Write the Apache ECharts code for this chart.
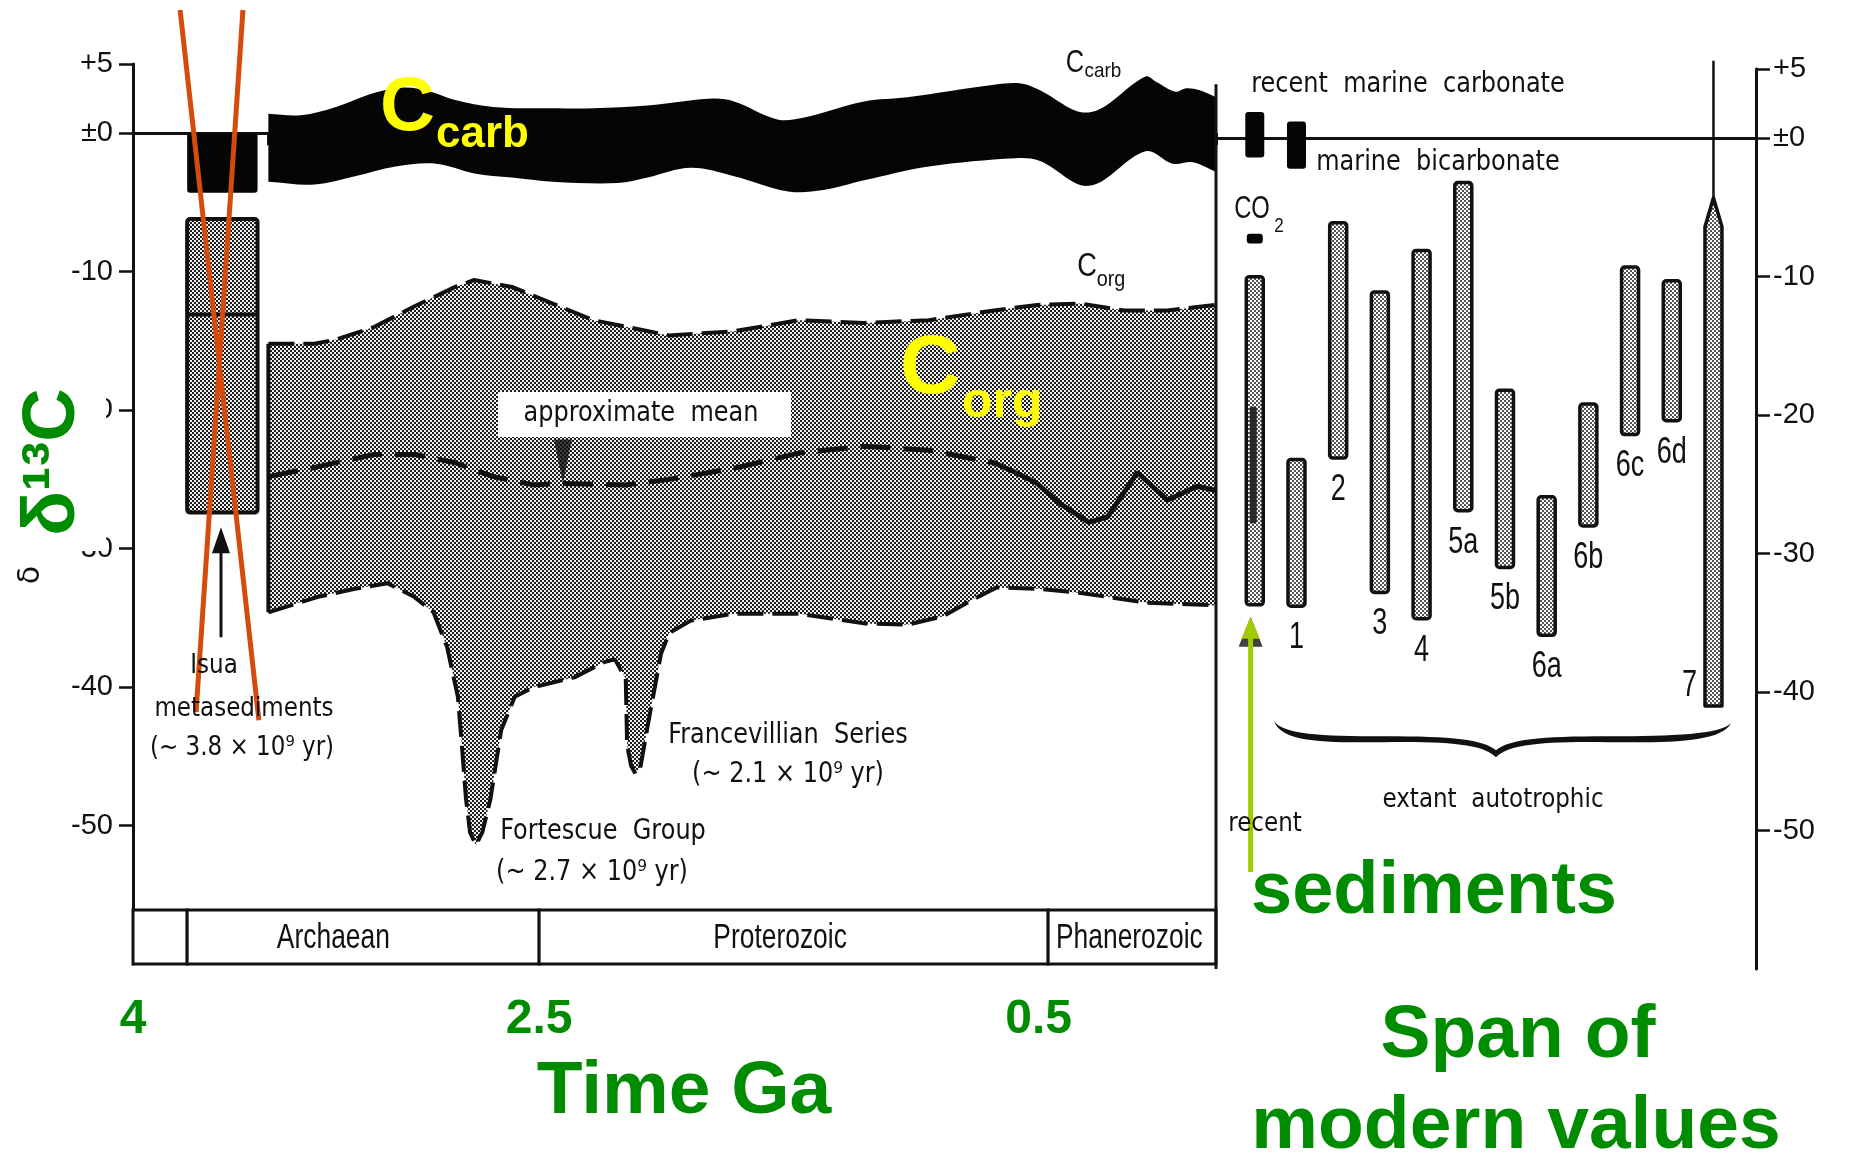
<!DOCTYPE html>
<html>
<head>
<meta charset="utf-8">
<title>δ13C of carbonate and organic carbon through time</title>
<script src="https://cdn.jsdelivr.net/npm/echarts@6/dist/echarts.min.js"></script>
<style>
  html, body { margin: 0; padding: 0; background: #ffffff; }
  #chart { width: 1850px; height: 1155px; }
</style>
</head>
<body>
<div id="chart"></div>
<script>
// ---------------- data (time in Ga, isotope values in ‰ δ13C) ----------------
const timeLabelValues = [4, 2.5, 0.5];
const deltaTickValues = [5, 0, -10, -20, -30, -40, -50];

// carbonate carbon envelope
const carbTop = [[3.50,1.4],[3.38,1.3],[3.25,1.9],[3.11,2.9],[3.00,3.3],[2.90,3.0],[2.81,2.4],[2.67,1.9],[2.45,1.8],[2.30,1.8],[2.10,2.0],[1.86,2.5],[1.78,2.3],[1.62,1.0],[1.53,1.1],[1.30,2.3],[1.14,2.6],[0.82,3.5],[0.72,3.6],[0.66,3.2],[0.47,1.5],[0.26,4.1],[0.22,3.7],[0.15,3.0],[0.11,3.25],[0.06,3.1],[0.00,2.6]];
const carbBottom = [[3.50,-3.5],[3.33,-3.7],[3.18,-3.1],[3.03,-2.4],[2.88,-2.2],[2.74,-2.9],[2.60,-3.2],[2.45,-3.5],[2.21,-3.6],[2.10,-3.2],[1.94,-2.5],[1.78,-3.1],[1.58,-4.2],[1.45,-4.1],[1.30,-3.4],[1.06,-2.4],[0.74,-1.8],[0.65,-2.0],[0.47,-3.8],[0.26,-1.3],[0.16,-2.2],[0.085,-2.1],[0.00,-2.8]];

// organic carbon envelope
const orgTop = [[3.50,-15.2],[3.33,-15.2],[3.25,-14.9],[3.11,-14.0],[2.96,-12.5],[2.81,-11.1],[2.74,-10.6],[2.60,-11.1],[2.45,-12.3],[2.30,-13.5],[2.02,-14.6],[1.78,-14.3],[1.54,-13.5],[1.30,-13.7],[1.06,-13.5],[0.82,-12.8],[0.66,-12.4],[0.50,-12.3],[0.34,-12.8],[0.18,-12.8],[0.00,-12.4]];
const orgBottom = [[3.50,-34.6],[3.32,-33.5],[3.18,-32.9],[3.06,-32.5],[2.96,-33.5],[2.89,-34.6],[2.84,-37.1],[2.80,-40.7],[2.785,-44.3],[2.77,-48.1],[2.755,-50.5],[2.733,-51.4],[2.71,-50.5],[2.68,-48.1],[2.64,-43.1],[2.59,-40.7],[2.52,-40.0],[2.37,-39.3],[2.26,-38.2],[2.22,-38.0],[2.18,-39.4],[2.175,-44.2],[2.16,-45.7],[2.143,-46.3],[2.125,-45.7],[2.10,-42.9],[2.05,-37.6],[2.02,-36.1],[1.94,-35.2],[1.78,-34.7],[1.54,-34.7],[1.30,-35.4],[1.14,-35.5],[1.01,-34.9],[0.90,-33.7],[0.81,-32.8],[0.66,-32.9],[0.50,-33.2],[0.26,-33.9],[0.00,-34.1]];

// approximate mean of organic carbon (dashed part, then solid Phanerozoic part)
const orgMeanDashed = [[3.50,-24.8],[3.32,-24.1],[3.11,-23.2],[2.96,-23.2],[2.81,-23.8],[2.67,-24.8],[2.52,-25.4],[2.42,-25.3],[2.18,-25.4],[2.02,-25.0],[1.78,-24.2],[1.54,-23.1],[1.30,-22.6],[1.06,-22.9],[0.82,-23.8],[0.74,-24.5]];
const orgMeanSolid = [[0.74,-24.5],[0.66,-25.3],[0.58,-26.7],[0.47,-28.1],[0.40,-27.7],[0.29,-24.5],[0.18,-26.5],[0.07,-25.5],[0.00,-25.8]];
const meanPointer = [2.412, -23.7];

// Isua metasediments (~3.8 Ga)
const isuaSpan = [3.80, 3.54];
const isuaCarb = [0, -4.3];
const isuaOrg = [-6.2, -27.4];
const isuaOrgMean = -13.1;
const isuaArrow = [[3.675, -36.4], [3.675, -29.4]];
const crossLineA = [[3.826, 8.9], [3.535, -42.4]];
const crossLineB = [[3.594, 8.9], [3.767, -41.8]];

// geological eras along the time axis
const eraNames = ['', 'Archaean', 'Proterozoic', 'Phanerozoic'];
const eraStart = [4.0, 3.8, 2.5, 0.62];
const eraEnd = [3.8, 2.5, 0.62, 0.0];
const eraLabelAt = [3.9, 3.26, 1.61, 0.32];
const eraBand = [-56.1, -60];

// modern values: recent sediments and extant autotrophs
const modernNames = ['recent', '1', '2', '3', '4', '5a', '5b', '6a', '6b', '6c', '6d', '7'];
const modernHigh = [-10.0, -23.2, -6.1, -11.1, -8.1, -3.2, -18.2, -25.9, -19.2, -9.3, -10.3, -6.4];
const modernLow  = [-33.7, -33.8, -23.1, -32.8, -34.7, -26.9, -31.0, -35.9, -28.0, -21.4, -20.4, -41.0];
const recentCore = [-19.4, -27.8];
const group7Tip = -4.3;
const group7Whisker = 5.6;

const marineNames = ['recent marine carbonate', 'marine bicarbonate', 'CO2'];
const marineSlot = [0, 1, 0];
const marineHigh = [1.9, 1.2, -6.9];
const marineLow = [-1.4, -2.2, -7.6];

const sedimentArrow = [[-0.1, -53.0], [-0.1, -35.35]];
const braceSpan = [0.46, 11.42];
const braceTop = -42.1;
const dividerTop = 3.9;

// ---------------- styling helpers ----------------
const SANS = "'Liberation Sans',Arial,sans-serif";
const SCAN = "'DejaVu Sans','Liberation Sans',sans-serif";
const BOLD = "'Liberation Sans',Arial,'Helvetica',sans-serif";
const GREEN = '#008c00';
const INK = '#111111';

function halftone(dark, light, cell) {
  const c = document.createElement('canvas');
  c.width = c.height = cell * 2;
  const g = c.getContext('2d');
  g.fillStyle = light; g.fillRect(0, 0, cell * 2, cell * 2);
  g.fillStyle = dark; g.fillRect(0, 0, cell, cell); g.fillRect(cell, cell, cell, cell);
  return c;
}
const orgFill = { image: halftone('#1c1c1c', '#f2f2f2', 2), repeat: 'repeat' };
const barFill = { image: halftone('#555555', '#ffffff', 2), repeat: 'repeat' };

// closed band between two edges; corner points are doubled so the ends stay square when smoothed
function bandItem(upper, lower, fill, smooth) {
  return function (params, api) {
    const up = upper.map(p => api.coord(p));
    const lo = lower.slice().reverse().map(p => api.coord(p));
    let pts;
    if (smooth) {
      pts = [up[0]].concat(up, [up[up.length - 1]], [lo[0]], lo, [lo[lo.length - 1]]);
    } else {
      pts = up.concat(lo);
    }
    return { type: 'polygon', shape: { points: pts, smooth: smooth || 0 }, style: { fill: fill } };
  };
}

function deltaLabel(v) {
  if (v === 5) return '+5';
  if (v === 0) return '±0';
  return '-' + Math.abs(v);
}

// ---------------- chart ----------------
const chart = echarts.init(document.getElementById('chart'), null, { renderer: 'canvas' });

const gridLeft = { left: 133, top: 64, width: 1083, height: 900 };
const gridRight = { left: 1216, top: 69, width: 540, height: 900 };
const tickLabelStyle = { color: INK, fontFamily: SANS, fontSize: 29 };

const option = {
  animation: false,
  backgroundColor: '#ffffff',
  grid: [gridLeft, gridRight],
  xAxis: [
    {
      gridIndex: 0, type: 'value', min: 0, max: 4, interval: 0.5, inverse: true,
      axisLine: { show: true, lineStyle: { color: INK, width: 3 } },
      axisTick: { show: true, inside: false, length: 12, lineStyle: { color: INK, width: 3 } },
      splitLine: { show: false },
      axisLabel: {
        show: true, margin: 32, customValues: timeLabelValues,
        color: GREEN, fontFamily: BOLD, fontWeight: 'bold', fontSize: 48,
        formatter: v => (v === 0.5 ? '{shift|0.5}' : String(v)),
        rich: { shift: { padding: [0, 84, 0, 0], color: GREEN, fontFamily: BOLD, fontWeight: 'bold', fontSize: 48 } }
      }
    },
    {
      gridIndex: 1, type: 'value', min: -0.93, max: 12.02,
      axisLine: { show: true, lineStyle: { color: INK, width: 3 } },
      axisTick: { show: false }, axisLabel: { show: false }, splitLine: { show: false }
    }
  ],
  yAxis: [
    {
      gridIndex: 0, type: 'value', min: -60, max: 5, position: 'left',
      axisLine: { show: true, onZero: false, lineStyle: { color: INK, width: 3 } },
      axisTick: { show: true, inside: false, length: 14, customValues: deltaTickValues, lineStyle: { color: INK, width: 2.5 } },
      axisLabel: Object.assign({ show: true, margin: 20, customValues: deltaTickValues, formatter: deltaLabel }, tickLabelStyle),
      splitLine: { show: false }
    },
    {
      gridIndex: 1, type: 'value', min: -60, max: 5, position: 'left',
      axisLine: { show: false }, axisTick: { show: false }, axisLabel: { show: false }, splitLine: { show: false }
    },
    {
      gridIndex: 1, type: 'value', min: -60, max: 5, position: 'right',
      axisLine: { show: true, onZero: false, lineStyle: { color: INK, width: 3 } },
      axisTick: { show: true, inside: false, length: 14, customValues: deltaTickValues, lineStyle: { color: INK, width: 2.5 } },
      axisLabel: Object.assign({ show: true, margin: 17, customValues: deltaTickValues, formatter: deltaLabel }, tickLabelStyle),
      splitLine: { show: false }
    }
  ],
  series: [
    // zero reference lines
    {
      type: 'line', xAxisIndex: 0, yAxisIndex: 0, data: [], z: 1, silent: true,
      markLine: { silent: true, symbol: 'none', label: { show: false }, lineStyle: { color: INK, width: 2.5, type: 'solid' }, data: [{ yAxis: 0 }] }
    },
    {
      type: 'line', xAxisIndex: 1, yAxisIndex: 1, data: [], z: 1, silent: true,
      markLine: { silent: true, symbol: 'none', label: { show: false }, lineStyle: { color: INK, width: 2.5, type: 'solid' }, data: [{ yAxis: 0 }] }
    },
    // divider between the time record and the modern values
    {
      type: 'line', xAxisIndex: 1, yAxisIndex: 1, z: 6, clip: false, showSymbol: false, silent: true,
      data: [[-0.93, dividerTop], [-0.93, -60]], lineStyle: { color: INK, width: 3 }
    },
    // organic carbon envelope
    { type: 'custom', name: 'Corg', xAxisIndex: 0, yAxisIndex: 0, data: [[0, 0]], z: 2, silent: true, renderItem: bandItem(orgTop, orgBottom, orgFill) },
    {
      type: 'line', name: 'Corg upper', xAxisIndex: 0, yAxisIndex: 0, data: orgTop, z: 3, showSymbol: false, silent: true,
      lineStyle: { color: INK, width: 4, type: [26, 9] }
    },
    {
      type: 'line', name: 'Corg lower', xAxisIndex: 0, yAxisIndex: 0, data: orgBottom, z: 3, showSymbol: false, silent: true,
      lineStyle: { color: INK, width: 4, type: [26, 9] }
    },
    {
      type: 'line', name: 'Corg edge', xAxisIndex: 0, yAxisIndex: 0, data: [orgTop[0], orgBottom[0]], z: 3, showSymbol: false, silent: true,
      lineStyle: { color: INK, width: 4 }
    },
    {
      type: 'line', name: 'mean', xAxisIndex: 0, yAxisIndex: 0, data: orgMeanDashed, z: 4, showSymbol: false, silent: true,
      lineStyle: { color: INK, width: 5, type: [30, 13] }
    },
    {
      type: 'line', name: 'mean Phanerozoic', xAxisIndex: 0, yAxisIndex: 0, data: orgMeanSolid, z: 4, showSymbol: false, silent: true,
      lineStyle: { color: INK, width: 5 }
    },
    {
      type: 'scatter', xAxisIndex: 0, yAxisIndex: 0, data: [meanPointer], z: 6, silent: true,
      symbol: 'triangle', symbolRotate: 180, symbolSize: [18, 44], itemStyle: { color: INK }
    },
    // carbonate carbon envelope
    { type: 'custom', name: 'Ccarb', xAxisIndex: 0, yAxisIndex: 0, data: [[0, 0]], z: 5, silent: true, renderItem: bandItem(carbTop, carbBottom, '#050505', 0.35) },
    // Isua metasediments
    {
      type: 'custom', name: 'Isua', xAxisIndex: 0, yAxisIndex: 0, data: [[isuaSpan[0], 0]], z: 5, silent: true,
      renderItem: function (params, api) {
        const c0 = api.coord([isuaSpan[0], isuaCarb[0]]), c1 = api.coord([isuaSpan[1], isuaCarb[1]]);
        const o0 = api.coord([isuaSpan[0], isuaOrg[0]]), o1 = api.coord([isuaSpan[1], isuaOrg[1]]);
        const m = api.coord([isuaSpan[0], isuaOrgMean]);
        return {
          type: 'group', children: [
            { type: 'rect', shape: { x: c0[0], y: c0[1], width: c1[0] - c0[0], height: c1[1] - c0[1], r: [0, 0, 3, 3] }, style: { fill: '#050505' } },
            { type: 'rect', shape: { x: o0[0], y: o0[1], width: o1[0] - o0[0], height: o1[1] - o0[1], r: 3 }, style: { fill: orgFill, stroke: INK, lineWidth: 4 } },
            { type: 'line', shape: { x1: o0[0], y1: m[1], x2: o1[0], y2: m[1] }, style: { stroke: INK, lineWidth: 4 } }
          ]
        };
      }
    },
    {
      type: 'line', xAxisIndex: 0, yAxisIndex: 0, z: 6, silent: true,
      data: [{ value: isuaArrow[0], symbol: 'none' }, { value: isuaArrow[1], symbol: 'triangle', symbolSize: [18, 26] }],
      showSymbol: true, lineStyle: { color: INK, width: 3 }, itemStyle: { color: INK }
    },
    // era strip
    {
      type: 'custom', name: 'eras', xAxisIndex: 0, yAxisIndex: 0, z: 5, silent: true,
      data: eraNames.map((n, i) => [eraStart[i], eraEnd[i], eraLabelAt[i]]),
      encode: { x: [0, 1] },
      renderItem: function (params, api) {
        const a = api.coord([api.value(0), eraBand[0]]);
        const b = api.coord([api.value(1), eraBand[1]]);
        const c = api.coord([api.value(2), eraBand[0]]);
        const x = Math.min(a[0], b[0]), w = Math.abs(b[0] - a[0]);
        return {
          type: 'group', children: [
            { type: 'rect', shape: { x: x, y: a[1], width: w, height: b[1] - a[1] }, style: { fill: '#ffffff', stroke: INK, lineWidth: 3 } },
            { type: 'text', x: c[0], y: (a[1] + b[1]) / 2 + 1, scaleX: 0.8, scaleY: 1.05, style: { text: eraNames[params.dataIndex], fill: INK, font: '33px ' + SANS, textAlign: 'center', textVerticalAlign: 'middle' } }
          ]
        };
      }
    },
    // crossing strokes over the Isua record
    { type: 'line', xAxisIndex: 0, yAxisIndex: 0, data: crossLineA, z: 8, clip: false, showSymbol: false, silent: true, lineStyle: { color: '#d64b0b', width: 5 } },
    { type: 'line', xAxisIndex: 0, yAxisIndex: 0, data: crossLineB, z: 8, clip: false, showSymbol: false, silent: true, lineStyle: { color: '#d64b0b', width: 5 } },

    // ---- modern values panel ----
    {
      type: 'custom', name: 'modern', xAxisIndex: 1, yAxisIndex: 1, z: 5, silent: true,
      data: modernNames.map((n, i) => [i, modernHigh[i], modernLow[i]]),
      encode: { x: 0, y: [1, 2] },
      renderItem: function (params, api) {
        const i = params.dataIndex;
        const top = api.coord([api.value(0), api.value(1)]);
        const bot = api.coord([api.value(0), api.value(2)]);
        const w = 17, cx = top[0];
        const children = [];
        const numStyle = (text) => ({ text: text, fill: INK, font: '36px ' + SANS, textAlign: 'center', textVerticalAlign: 'middle' });
        if (modernNames[i] === '7') {
          const tip = api.coord([i, group7Tip]);
          const wh = api.coord([i, group7Whisker]);
          children.push({ type: 'line', shape: { x1: cx, y1: wh[1], x2: cx, y2: tip[1] }, style: { stroke: INK, lineWidth: 2.5 } });
          children.push({
            type: 'polygon',
            shape: { points: [[cx, tip[1]], [cx + w / 2, top[1]], [cx + w / 2, bot[1]], [cx - w / 2, bot[1]], [cx - w / 2, top[1]]] },
            style: { fill: barFill, stroke: INK, lineWidth: 3.5, lineJoin: 'round' }
          });
          children.push({ type: 'text', x: cx - 24, y: bot[1] - 20, scaleX: 0.75, style: numStyle('7') });
        } else {
          children.push({ type: 'rect', shape: { x: cx - w / 2, y: top[1], width: w, height: bot[1] - top[1], r: 3 }, style: { fill: barFill, stroke: INK, lineWidth: 3.5 } });
          if (i === 0) {
            const c0 = api.coord([i, recentCore[0]]), c1 = api.coord([i, recentCore[1]]);
            children.push({ type: 'rect', shape: { x: cx - 5, y: c0[1], width: 7, height: c1[1] - c0[1], r: 2 }, style: { fill: '#2a2a2a' } });
          } else {
            children.push({ type: 'text', x: cx, y: bot[1] + 32, scaleX: 0.75, style: numStyle(modernNames[i]) });
          }
        }
        return { type: 'group', children: children };
      }
    },
    {
      type: 'custom', name: 'marine', xAxisIndex: 1, yAxisIndex: 1, z: 5, silent: true,
      data: marineNames.map((n, i) => [marineSlot[i], marineHigh[i], marineLow[i]]),
      encode: { x: 0, y: [1, 2] },
      renderItem: function (params, api) {
        const top = api.coord([api.value(0), api.value(1)]);
        const bot = api.coord([api.value(0), api.value(2)]);
        const w = params.dataIndex === 2 ? 16 : 19;
        return { type: 'rect', shape: { x: top[0] - w / 2, y: top[1], width: w, height: bot[1] - top[1], r: 3 }, style: { fill: '#050505' } };
      }
    },
    // curly brace grouping the extant autotrophs
    {
      type: 'custom', name: 'brace', xAxisIndex: 1, yAxisIndex: 1, z: 5, silent: true,
      data: [[braceSpan[0], braceTop]],
      renderItem: function (params, api) {
        const a = api.coord([braceSpan[0], braceTop]);
        const b = api.coord([braceSpan[1], braceTop]);
        return {
          type: 'path',
          shape: {
            pathData: 'M0,0 C8,20 45,22 110,21 C180,20 210,24 222,36 C234,24 264,20 334,21 C400,22 448,20 457,2 C446,13 400,15 334,15 C264,15 236,18 222,29 C208,18 180,15 110,15 C45,15 10,13 0,0 Z',
            x: a[0], y: a[1], width: b[0] - a[0], height: 36, layout: 'cover'
          },
          style: { fill: INK }
        };
      }
    },
    {
      type: 'scatter', xAxisIndex: 1, yAxisIndex: 1, z: 6, silent: true,
      data: [[sedimentArrow[1][0], -35.65]], symbol: 'triangle', symbolSize: [24, 30], itemStyle: { color: INK }
    },
    {
      type: 'line', xAxisIndex: 1, yAxisIndex: 1, z: 7, silent: true,
      data: [{ value: sedimentArrow[0], symbol: 'none' }, { value: sedimentArrow[1], symbol: 'triangle', symbolSize: [18, 22] }],
      showSymbol: true, lineStyle: { color: '#a3cc00', width: 5 }, itemStyle: { color: '#a3cc00' }
    }
  ],
  graphic: []
};

// ---------------- text annotations ----------------
function txt(text, x, y, font, opts) {
  opts = opts || {};
  return {
    type: 'text', x: x, y: y, z: 100, silent: true,
    rotation: opts.rotation || 0, scaleX: opts.sx || 1, scaleY: opts.sy || 1,
    style: { text: text, font: font, fill: opts.fill || INK, textAlign: opts.align || 'center', textVerticalAlign: 'middle' }
  };
}
const scan = '25px ' + SCAN;
const scanShape = { sx: 0.96, sy: 1.12 };
const g = option.graphic;

// mean label box
g.push({ type: 'rect', z: 90, silent: true, shape: { x: 498, y: 392, width: 293, height: 45 }, style: { fill: '#ffffff' } });
g.push(txt('approximate  mean', 641, 414, scan, scanShape));

g.push(txt('Isua', 214, 666, '24px ' + SCAN, scanShape));
g.push(txt('metasediments', 244, 709, '24px ' + SCAN, scanShape));
g.push(txt('(~ 3.8 × 10⁹ yr)', 242, 748, '24px ' + SCAN, scanShape));
g.push(txt('Fortescue  Group', 603, 832, scan, scanShape));
g.push(txt('(~ 2.7 × 10⁹ yr)', 592, 873, scan, scanShape));
g.push(txt('Francevillian  Series', 788, 736, scan, scanShape));
g.push(txt('(~ 2.1 × 10⁹ yr)', 788, 775, scan, scanShape));

g.push(txt('C', 1075, 63, '30px ' + SANS, { sx: 0.85, sy: 1.05 }));
g.push(txt('carb', 1103, 71, '21px ' + SANS, { sx: 0.9 }));
g.push(txt('C', 1087, 267, '32px ' + SANS, { sx: 0.85, sy: 1.05 }));
g.push(txt('org', 1111, 280, '22px ' + SANS, { sx: 0.9 }));

g.push(txt('recent  marine  carbonate', 1408, 85, scan, scanShape));
g.push(txt('marine  bicarbonate', 1438, 163, scan, scanShape));
g.push(txt('CO', 1252, 210, '29px ' + SANS, { sx: 0.82, sy: 1.05 }));
g.push(txt('2', 1279, 226, '20px ' + SANS, { sx: 0.85 }));
g.push(txt('extant  autotrophic', 1493, 800, '24px ' + SCAN, scanShape));
g.push(txt('recent', 1265, 824, '24px ' + SCAN, scanShape));

// highlighted labels
const YELLOW = '#ffff00';
g.push(txt('C', 380, 109, 'bold 76px ' + BOLD, { fill: YELLOW, align: 'left' }));
g.push(txt('carb', 436, 135, 'bold 44px ' + BOLD, { fill: YELLOW, align: 'left' }));
g.push(txt('C', 900, 370, 'bold 84px ' + BOLD, { fill: YELLOW, align: 'left' }));
g.push(txt('org', 962, 403, 'bold 50px ' + BOLD, { fill: YELLOW, align: 'left' }));

// axis titles
g.push(txt('δ', 31, 575, '30px ' + SCAN, { rotation: Math.PI / 2 }));
g.push({ type: 'rect', z: 95, silent: true, shape: { x: 14, y: 383, width: 92, height: 168 }, style: { fill: '#ffffff' } });
g.push(txt('δ¹³C', 54, 462, 'bold 74px ' + BOLD, { fill: GREEN, rotation: Math.PI / 2 }));

g.push(txt('Time Ga', 684, 1092, 'bold 75px ' + BOLD, { fill: GREEN }));
g.push(txt('sediments', 1434, 893, 'bold 74px ' + BOLD, { fill: GREEN }));
g.push(txt('Span of', 1518, 1036, 'bold 75px ' + BOLD, { fill: GREEN }));
g.push(txt('modern values', 1516, 1127, 'bold 75px ' + BOLD, { fill: GREEN }));

chart.setOption(option);
</script>
</body>
</html>
